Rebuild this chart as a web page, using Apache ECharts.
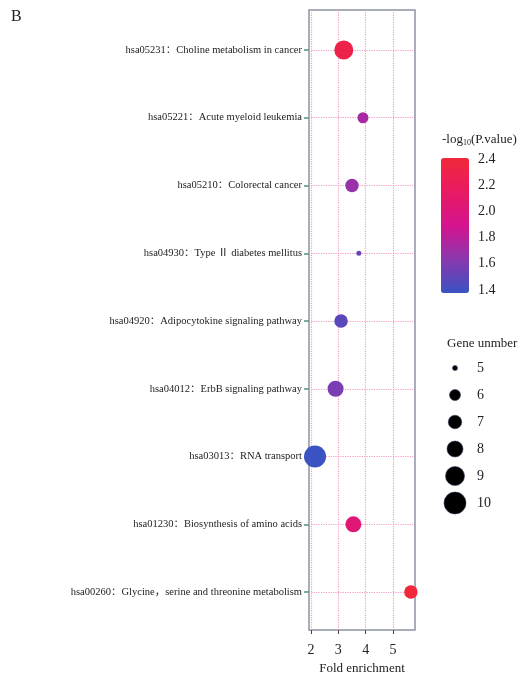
<!DOCTYPE html>
<html>
<head>
<meta charset="utf-8">
<script src="https://cdn.jsdelivr.net/npm/echarts@6/dist/echarts.min.js"></script>
<style>
    html, body { margin: 0; padding: 0; background: #fff; }
    #chart { width: 528px; height: 674px; }
</style>
</head>
<body>
<div id="chart"></div>
<script>
// KEGG pathways, listed top to bottom as in the figure
var pathways = [
    "hsa05231：Choline metabolism in cancer",
    "hsa05221：Acute myeloid leukemia",
    "hsa05210：Colorectal cancer",
    "hsa04930：Type Ⅱ diabetes mellitus",
    "hsa04920：Adipocytokine signaling pathway",
    "hsa04012：ErbB signaling pathway",
    "hsa03013：RNA transport",
    "hsa01230：Biosynthesis of amino acids",
    "hsa00260：Glycine，serine and threonine metabolism"
];
var foldEnrichment = [3.2, 3.9, 3.5, 3.75, 3.1, 2.9, 2.15, 3.55, 5.65];
var geneNumber = [9, 6, 7, 5, 7, 8, 10, 8, 7];
var negLogP = [2.3, 1.75, 1.7, 1.55, 1.5, 1.6, 1.4, 2.05, 2.4];

var xTicks = [2, 3, 4, 5];
var sizeLegend = [5, 6, 7, 8, 9, 10];
// bubble diameter for each gene count
var sizeByGene = {5: 5, 6: 11, 7: 13.5, 8: 16, 9: 19, 10: 22};

var FONT = "'Liberation Serif', 'Noto Sans CJK SC', serif";
var n = pathways.length;

var points = [];
for (var i = 0; i < n; i++) {
    // y value counts from the bottom row
    points.push([foldEnrichment[i], n - 1 - i, geneNumber[i], negLogP[i]]);
}
var rowValues = [];
for (var j = 0; j < n; j++) {
    rowValues.push(j);
}

var option = {
    backgroundColor: "#fff",
    animation: false,
    title: [
        {text: "B", left: 6, top: 4, textStyle: {fontFamily: FONT, fontSize: 16, fontWeight: "normal", color: "#222"}},
        {
            text: "-log{sub|10}(P.value)", left: 437, top: 128,
            textStyle: {
                fontFamily: FONT, fontSize: 13, fontWeight: "normal", color: "#222",
                rich: {sub: {fontFamily: FONT, fontSize: 8, verticalAlign: "bottom", padding: [6, 0, 0, 0], color: "#222"}}
            }
        },
        {text: "Gene unmber", left: 442, top: 332, textStyle: {fontFamily: FONT, fontSize: 13, fontWeight: "normal", color: "#222"}}
    ],
    grid: [
        {left: 309, right: 113, top: 10, bottom: 44, show: true, borderColor: "#8c93a3", borderWidth: 1.5, outerBoundsMode: "none"},
        {left: 470, width: 1, top: 159, bottom: 384, outerBoundsMode: "none"},
        {left: 445, width: 20, top: 368, bottom: 171, outerBoundsMode: "none"}
    ],
    xAxis: [
        {
            gridIndex: 0, type: "value", min: 1.93, max: 5.8,
            name: "Fold enrichment", nameLocation: "middle", nameGap: 30,
            nameTextStyle: {fontFamily: FONT, fontSize: 13, color: "#222"},
            axisLine: {show: false, onZero: false},
            axisTick: {show: true, length: 4, customValues: xTicks, lineStyle: {color: "#444"}},
            axisLabel: {customValues: xTicks, fontFamily: FONT, fontSize: 14, color: "#222", margin: 13},
            splitLine: {show: true, lineStyle: {type: "dotted", color: "#f39bc6", width: 1.2}}
        },
        {gridIndex: 1, type: "value", show: false},
        {gridIndex: 2, type: "value", min: 0, max: 1, show: false}
    ],
    yAxis: [
        {
            gridIndex: 0, type: "value", min: -0.56, max: 8.59,
            axisLine: {show: false, onZero: false},
            axisTick: {show: true, length: 5, customValues: rowValues, lineStyle: {color: "#5b8f80", width: 1.5}},
            axisLabel: {
                customValues: rowValues, fontFamily: FONT, fontSize: 10.5, color: "#222", margin: 7,
                formatter: function (v) { return pathways[n - 1 - Math.round(v)]; }
            },
            splitLine: {show: true, lineStyle: {type: "dotted", color: "#f39bc6", width: 1.2}}
        },
        {
            gridIndex: 1, type: "value", position: "right", min: 1.4, max: 2.4, interval: 0.2,
            axisLine: {show: false}, axisTick: {show: false}, splitLine: {show: false},
            axisLabel: {fontFamily: FONT, fontSize: 14, color: "#222", margin: 7, formatter: function (v) { return v.toFixed(1); }}
        },
        {
            gridIndex: 2, type: "category", position: "right", inverse: true, boundaryGap: false,
            data: sizeLegend.map(String),
            axisLine: {show: false}, axisTick: {show: false}, splitLine: {show: false},
            axisLabel: {fontFamily: FONT, fontSize: 14, color: "#222", margin: 12}
        }
    ],
    visualMap: [{
        type: "continuous", seriesIndex: 0, dimension: 3, min: 1.4, max: 2.4,
        left: 441, top: 158, itemWidth: 28, itemHeight: 135, padding: 0,
        calculable: false, text: null, showLabel: false,
        inRange: {color: ["#3a52c2", "#8a38ae", "#d5138f", "#e81a62", "#f0283a"]}
    }],
    series: [
        {
            type: "scatter", xAxisIndex: 0, yAxisIndex: 0, data: points,
            symbol: "circle",
            symbolSize: function (d) { return sizeByGene[d[2]]; },
            itemStyle: {opacity: 1}
        },
        {
            type: "scatter", xAxisIndex: 2, yAxisIndex: 2, silent: true,
            data: sizeLegend.map(function (g, k) { return [0.5, k, g]; }),
            symbol: "circle",
            symbolSize: function (d) { return sizeByGene[d[2]]; },
            itemStyle: {color: "#000", opacity: 1, borderColor: "#2d3a5a", borderWidth: 0.6}
        }
    ]
};

var chart = echarts.init(document.getElementById("chart"));
chart.setOption(option);
</script>
</body>
</html>
